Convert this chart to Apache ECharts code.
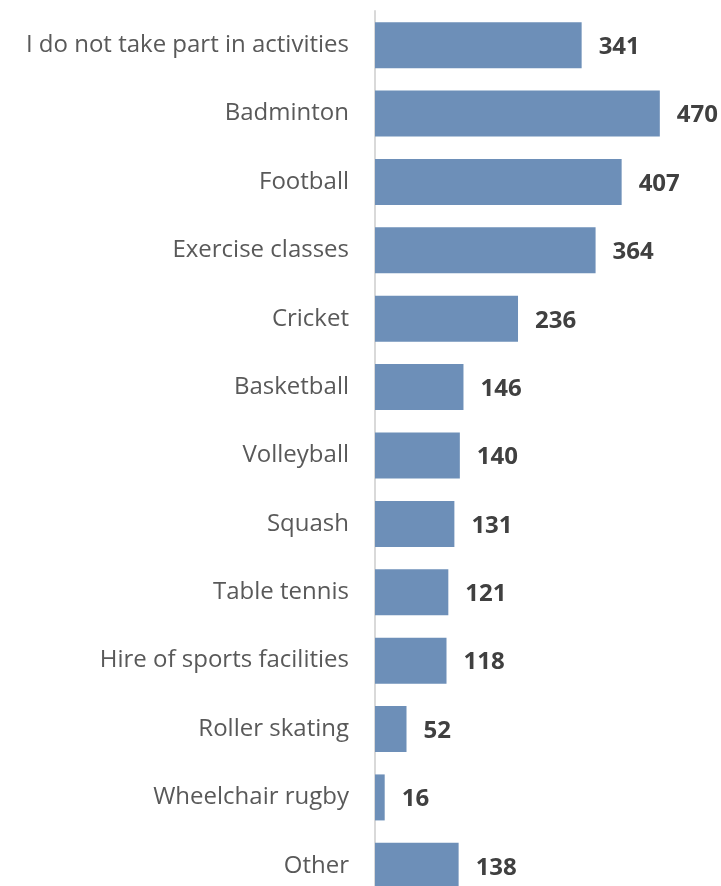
<!DOCTYPE html>
<html>
<head>
<meta charset="utf-8">
<script src="https://cdn.jsdelivr.net/npm/echarts@6/dist/echarts.min.js"></script>
<style>
  html, body { margin: 0; padding: 0; background: #fff; }
  #main { width: 721px; height: 886px; }
</style>
</head>
<body>
<div id="main"></div>
<script>
// categories top to bottom
const categories = [
  'I do not take part in activities', 'Badminton', 'Football', 'Exercise classes',
  'Cricket', 'Basketball', 'Volleyball', 'Squash', 'Table tennis',
  'Hire of sports facilities', 'Roller skating', 'Wheelchair rugby', 'Other'
];
const counts = [341, 470, 407, 364, 236, 146, 140, 131, 121, 118, 52, 16, 138];

let myChart = echarts.init(document.getElementById('main'));

let option = {
  animation: false,
  grid: {
    left: 375,
    width: 303,
    top: 11,
    height: 889,
    outerBoundsMode: 'none',
    containLabel: false
  },
  xAxis: {
    type: 'value',
    min: 0,
    max: 500,
    show: false
  },
  yAxis: {
    type: 'category',
    inverse: true,
    data: categories,
    axisLine: { show: true, lineStyle: { color: '#d9d9d9', width: 2 } },
    axisTick: { show: false },
    axisLabel: {
      margin: 26,
      fontFamily: 'Open Sans',
      fontSize: 24,
      color: '#595959'
    }
  },
  series: [
    {
      type: 'bar',
      data: counts,
      barWidth: 46,
      itemStyle: { color: '#6d8fb8' },
      label: {
        show: true,
        position: 'right',
        distance: 17,
        offset: [0, 2],
        fontFamily: 'Open Sans',
        fontWeight: 'bold',
        fontSize: 24,
        color: '#404040'
      }
    }
  ]
};

myChart.setOption(option);
</script>
</body>
</html>
